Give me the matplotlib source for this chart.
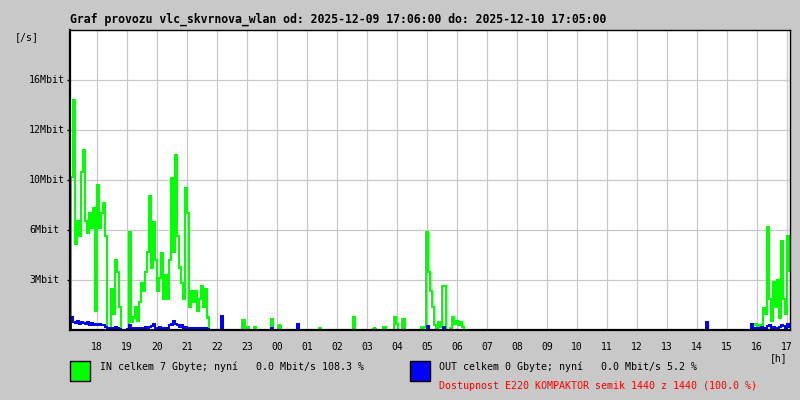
import matplotlib
matplotlib.use('Agg')
from matplotlib import pyplot as plt, transforms
from matplotlib.patches import Rectangle
import numpy as np

plt.rcParams['font.family'] = ['DejaVu Sans Mono']

title = "Graf provozu vlc_skvrnova_wlan od: 2025-12-09 17:06:00 do: 2025-12-10 17:05:00"
start_clock = "17:06"
day_minutes = 1440

# y axis (Mbit/s), labels as printed on the graph
y_ticks = [3.2, 6.4, 9.6, 12.8, 16.0]
y_labels = ["3Mbit", "6Mbit", "10Mbit", "12Mbit", "16Mbit"]
y_top = 19.2

hour_labels = ["18", "19", "20", "21", "22", "23", "00", "01", "02", "03", "04", "05",
               "06", "07", "08", "09", "10", "11", "12", "13", "14", "15", "16", "17"]

# samples are 4 minutes apart inside the busy windows
sample_step = 4

in_evening_start = "17:08"
in_evening = [9.8, 14.7, 5.5, 7.0, 6.0, 10.1, 11.5, 7.0, 6.2, 7.5,
              6.5, 7.8, 1.2, 9.3, 6.5, 7.5, 8.1, 6.0, 0.0, 0.0,
              2.6, 1.0, 4.5, 3.7, 1.5, 0.0, 0.0, 0.0, 0.0, 6.3,
              0.5, 0.8, 1.5, 0.6, 1.8, 3.0, 2.5, 3.7, 5.0, 8.6,
              4.0, 6.9, 4.5, 2.5, 3.3, 4.9, 2.0, 3.5, 2.0, 4.5,
              9.7, 5.0, 11.2, 6.0, 4.0, 3.0, 2.0, 9.1, 7.5, 1.5,
              2.5, 1.8, 2.5, 1.2, 2.0, 2.8, 1.5, 2.6, 0.8, 0.0]
out_evening = [0.8, 0.5, 0.45, 0.55, 0.4, 0.5, 0.45, 0.4, 0.5, 0.35,
               0.45, 0.3, 0.4, 0.3, 0.35, 0.3, 0.3, 0.2, 0.05, 0.1,
               0.05, 0.15, 0.2, 0.1, 0.05, 0.0, 0.0, 0.0, 0.05, 0.3,
               0.1, 0.05, 0.1, 0.05, 0.1, 0.15, 0.1, 0.2, 0.15, 0.2,
               0.25, 0.35, 0.15, 0.1, 0.2, 0.1, 0.15, 0.1, 0.15, 0.3,
               0.35, 0.6, 0.4, 0.3, 0.2, 0.3, 0.15, 0.2, 0.1, 0.1,
               0.05, 0.1, 0.1, 0.05, 0.15, 0.1, 0.15, 0.1, 0.05, 0.0]

in_morning_start = "04:54"
in_morning = [0.2, 6.25, 3.7, 2.5, 1.5, 0.3, 0.1, 0.5, 0.2, 2.8,
              2.8, 0.0, 0.0, 0.1, 0.8, 0.4, 0.6, 0.3, 0.5, 0.2, 0.0]

in_end_start = "15:48"
in_end = [0.2, 0.3, 0.4, 0.1, 0.3, 0.2, 1.4, 1.0, 6.6, 2.0,
          0.6, 3.1, 1.5, 3.2, 0.8, 5.7, 2.0, 1.0, 6.0, 3.8]
out_end = [0.4, 0.1, 0.15, 0.05, 0.1, 0.2, 0.1, 0.15, 0.25, 0.3,
           0.1, 0.2, 0.15, 0.1, 0.2, 0.3, 0.25, 0.1, 0.35, 0.2]

# isolated short spikes (clock time, Mbit/s)
in_spike_times = ["22:51", "23:00", "23:14", "23:48", "00:03", "01:24", "02:32",
                  "03:13", "03:33", "03:54", "03:58", "04:11", "04:48", "14:18"]
in_spike_vals = [0.65, 0.2, 0.2, 0.7, 0.3, 0.1, 0.8, 0.1, 0.2, 0.85, 0.4, 0.7, 0.2, 0.3]
out_spike_times = ["22:08", "23:48", "00:40", "05:00", "05:32", "14:18"]
out_spike_vals = [0.9, 0.15, 0.4, 0.25, 0.2, 0.5]

in_legend = "IN celkem 7 Gbyte; nyní   0.0 Mbit/s 108.3 %"
out_legend = "OUT celkem 0 Gbyte; nyní   0.0 Mbit/s 5.2 %"
avail_text = "Dostupnost E220 KOMPAKTOR semik 1440 z 1440 (100.0 %)"


def minutes(clock):
    h, m = clock.split(":")
    sh, sm = start_clock.split(":")
    t = int(h) * 60 + int(m) - (int(sh) * 60 + int(sm))
    if t < 0:
        t += day_minutes
    return t


def put(arr, start, vals):
    i0 = minutes(start)
    for k, v in enumerate(vals):
        arr[i0 + k * sample_step: i0 + (k + 1) * sample_step] = v


in_rate = np.zeros(day_minutes)
out_rate = np.zeros(day_minutes)
put(in_rate, in_evening_start, in_evening)
put(in_rate, in_morning_start, in_morning)
put(in_rate, in_end_start, in_end)
put(out_rate, in_evening_start, out_evening)
put(out_rate, in_end_start, out_end)
for t, v in zip(in_spike_times, in_spike_vals):
    put(in_rate, t, [v])
for t, v in zip(out_spike_times, out_spike_vals):
    put(out_rate, t, [v])

bg = '#c8c8c8'
fig = plt.figure(figsize=(8, 4), dpi=100, facecolor=bg)
ax = fig.add_axes([70 / 800, 70 / 400, 720 / 800, 300 / 400])
ax.set_facecolor('white')
ax.set_xlim(0, day_minutes)
ax.set_ylim(0, y_top)

hour_pos = [minutes(h + ":00") for h in hour_labels]
ax.set_xticks(hour_pos)
ax.set_xticklabels(hour_labels, fontsize=7)
ax.set_yticks(y_ticks)
ax.set_yticklabels([])
ax.tick_params(axis='x', length=0, pad=8.5)
ax.tick_params(axis='y', length=2, width=1)
ax.grid(True, color=bg, lw=0.9)
ax.set_axisbelow(True)

tt = np.arange(day_minutes + 1)
ax.step(tt, np.append(in_rate, in_rate[-1]), where='post', color='#00ff00', lw=0.8, antialiased=False)
ax.step(tt, np.append(out_rate, out_rate[-1]), where='post', color='#0000ff', lw=0.8, antialiased=False)

for side in ['left', 'bottom']:
    ax.spines[side].set_linewidth(1.6)
for side in ['top', 'right']:
    ax.spines[side].set_linewidth(1.0)
for s in ax.spines.values():
    s.set_color('black')

trans = transforms.blended_transform_factory(fig.transFigure, ax.transData)
for v, lab in zip(y_ticks, y_labels):
    ax.text(29 / 800, v, lab, transform=trans, ha='left', va='center', fontsize=7.2)

fig.text(70 / 800, 1 - 19 / 400, title, ha='left', va='center', fontsize=8.3, fontweight='bold')
fig.text(15 / 800, 1 - 37 / 400, "[/s]", ha='left', va='center', fontsize=7.2)
fig.text(770 / 800, 1 - 358 / 400, "[h]", ha='left', va='center', fontsize=7.0)

fig.add_artist(Rectangle((70 / 800, 1 - 381 / 400), 20 / 800, 20 / 400, transform=fig.transFigure,
                         facecolor='#00ff00', edgecolor='black', lw=1))
fig.add_artist(Rectangle((410 / 800, 1 - 381 / 400), 20 / 800, 20 / 400, transform=fig.transFigure,
                         facecolor='#0000ff', edgecolor='black', lw=1))
fig.text(100 / 800, 1 - 367 / 400, in_legend, ha='left', va='center', fontsize=7.2)
fig.text(439 / 800, 1 - 367 / 400, out_legend, ha='left', va='center', fontsize=7.2)
fig.text(439 / 800, 1 - 386 / 400, avail_text, ha='left', va='center', fontsize=7.2, color='#ff0000')

fig.savefig("out.png", dpi=100, facecolor=bg)
